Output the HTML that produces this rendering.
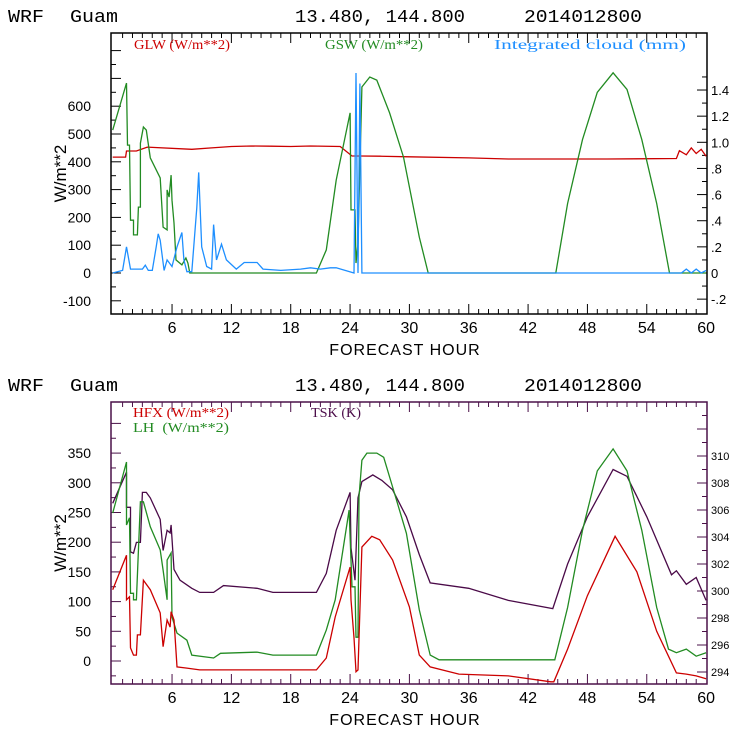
<!DOCTYPE html>
<html><head><meta charset="utf-8"><style>
body{margin:0;background:#fff;}
svg{display:block;font-family:"Liberation Mono",monospace;}
</style></head><body>
<svg id="c" width="740" height="740" xmlns="http://www.w3.org/2000/svg"></svg>
<script>
// ---- data ----
const glwHours=[0,1.3,1.4,2.4,3.5,8,10,12,14,16,18,20,23,24.2,25,27,30,36,40,44,50,57,57.3,58,58.5,59,59.5,60];
const glwVals=[417,417,439,439,453,445,450,455,457,456,455,457,455,421,421,420,418,414,410,410,410,412,440,425,450,430,445,420];
const gswHours=[0,1.4,1.5,1.7,1.8,2.1,2.1,2.5,2.6,2.8,2.8,3.1,3.4,3.8,4.8,5.1,5.5,5.5,5.7,5.9,6.0,6.2,6.4,7.0,7.4,7.6,7.8,20.6,21.6,22.6,24.0,24.1,24.5,24.6,24.8,25.2,26.0,26.7,28.0,29.4,31.0,31.9,44.8,46,47.5,49,50.6,52,53.5,55,56.3,60];
const gswVals=[514,683,460,460,190,190,137,137,237,237,467,525,514,414,342,165,155,299,273,352,262,180,47,29,54,36,0,0,83,334,576,227,227,36,108,669,705,694,576,417,129,0,0,250,480,650,720,660,480,250,0,0];
const cldHours=[0,1.0,1.4,1.8,2.5,3.0,3.3,3.6,4.0,4.4,4.6,4.8,5.2,5.5,6.0,6.5,7.0,7.2,7.5,8.0,8.5,8.7,9.0,9.5,10.0,10.2,10.5,11.0,11.5,12.5,13.3,14.6,15.2,17,19,20,21,22,22.6,24.4,24.6,24.8,25.0,25.2,25.4,57.5,58,58.5,59,59.5,60];
const cldVals=[0,0.02,0.2,0.03,0.03,0.03,0.06,0.02,0.02,0.2,0.3,0.25,0.02,0.1,0.05,0.2,0.31,0.1,0.01,0.01,0.5,0.77,0.2,0.05,0.03,0.37,0.1,0.22,0.1,0.03,0.08,0.08,0.03,0.02,0.03,0.04,0.03,0.04,0.04,0,1.53,0,1.45,0,0,0,0.03,0,0.03,0,0.02];
const lhHours=[0,1.4,1.4,1.7,1.8,2.1,2.1,2.4,2.8,3.1,3.8,4.8,5.1,5.5,5.5,5.9,6.0,6.5,7.5,8.0,10.2,10.9,14.6,16.2,20.6,21.6,22.5,23.9,24.2,24.5,24.6,24.8,24.9,25.2,25.7,26.7,27.4,28.3,29.7,31.0,32.1,33,44.7,46,47.5,49,50.6,52,53.5,55,56.2,57,58,59,60];
const lhVals=[249,335,229,241,114,114,103,103,268,268,226,187,153,103,170,182,74,47,35,10,5,13,15,10,10,52,103,254,125,125,40,40,276,338,350,350,343,293,215,86,10,2,2,90,220,320,357,320,220,90,20,14,20,8,14];
const hfxHours=[0,1.4,1.4,1.7,1.8,2.1,2.4,2.5,2.8,3.1,3.8,4.8,5.1,5.5,5.8,5.9,6.2,6.5,7.5,8.8,20.6,21.6,22.5,24.0,24.1,24.4,24.6,24.8,25.2,26.2,27.0,28.3,30.0,31.0,32.1,35,40,44.3,44.6,46,48,50.8,53,55,57,58,59,60];
const hfxVals=[120,178,103,108,22,10,10,44,44,136,120,81,24,69,57,83,69,-10,-12,-15,-15,5,74,158,103,39,-18,-15,192,210,204,170,91,10,-10,-22,-25,-35,-35,20,110,210,150,50,-20,-22,-25,-30];
const tskHours=[0,1.4,1.4,1.8,1.8,2.1,2.4,2.8,3.0,3.4,3.8,4.8,5.1,5.5,5.8,5.9,6.2,6.8,8.0,8.8,10.2,11.2,14.6,16.2,20.6,21.6,22.6,24.0,24.1,24.5,24.8,25.2,26.3,27.2,28.3,29.7,31.0,32.1,36,40,44.5,46,48,50.6,52,54,56.5,57,58,59,60];
const tskVals=[306.5,308.8,306.2,306.2,302.9,302.8,303.6,303.6,307.3,307.3,306.9,305.3,303.0,304.5,304.3,304.9,301.6,300.8,300.2,299.9,299.9,300.4,300.2,299.9,299.9,301.3,304.5,307.3,303.2,300.8,306.9,308.1,308.6,308.2,307.5,305.5,302.7,300.6,300.2,299.3,298.7,302,305.5,309,308.5,305.5,301.2,301.5,300.5,301,299.3];
const xTicks=[6,12,18,24,30,36,42,48,54,60];
const topLeftTicks=[-100,0,100,200,300,400,500,600];
const topRightTicks=[-0.2,0,0.2,0.4,0.6,0.8,1.0,1.2,1.4];
const topRightLabels=["-.2","0",".2",".4",".6",".8","1.0","1.2","1.4"];
const botLeftTicks=[0,50,100,150,200,250,300,350];
const botRightTicks=[294,296,298,300,302,304,306,308,310];

const NS="http://www.w3.org/2000/svg";
const svg=document.getElementById('c');
function mk(tag,attrs,parent,text){const e=document.createElementNS(NS,tag);for(const k in attrs)e.setAttribute(k,attrs[k]);if(text!==undefined)e.textContent=text;(parent||svg).appendChild(e);return e;}
const X0=112.7,PX=9.89;
const xs=h=>X0+h*PX;
const P=[
 {top:33,bot:314,box:'#000',ly:v=>273-v*0.278,ry:v=>273-v*130.7},
 {top:402,bot:684,box:'#4a1048',ly:v=>661-v*0.594,ry:v=>672-(v-294)*13.5}
];
function line(hours,vals,yf,color,name){
  const pts=hours.map((h,i)=>xs(h).toFixed(1)+','+yf(vals[i]).toFixed(1)).join(' ');
  const p=mk('polyline',{points:pts,fill:'none',stroke:color,'stroke-width':1.3});
  
  
}
P.forEach((p,pi)=>{
  const ty=pi?391:22;
  [[8,'WRF',36],[70,'Guam',48],[295,'13.480, 144.800',170],[524,'2014012800',118]].forEach(s=>{
    const t=mk('text',{x:s[0],y:ty,'font-size':18,fill:'#000',textLength:s[2],lengthAdjust:'spacingAndGlyphs'},svg,s[1]);
    
  });
  const r=mk('rect',{x:111,y:p.top,width:596,height:p.bot-p.top,fill:'none',stroke:p.box,'stroke-width':1.5});
  
  for(let h=1;h<60;h++){const big=h%6===0;
    mk('line',{x1:xs(h),x2:xs(h),y1:p.bot,y2:p.bot-(big?10:5),stroke:p.box});
    mk('line',{x1:xs(h),x2:xs(h),y1:p.top,y2:p.top+(big?10:5),stroke:p.box});}
  xTicks.forEach(h=>{const t=mk('text',{x:xs(h),y:p.bot+19,'font-size':16,'text-anchor':'middle',fill:'#000','font-family':'Liberation Sans'},svg,h);
    });
  const xl=mk('text',{x:405,y:p.bot+41,'font-size':16,'text-anchor':'middle',fill:'#000','font-family':'Liberation Sans','letter-spacing':'1'},svg,'FORECAST HOUR');
  
  const yl=mk('text',{x:0,y:0,'font-size':17,'text-anchor':'middle',fill:'#000','font-family':'Liberation Sans',transform:`translate(66,${(p.top+p.bot)/2}) rotate(-90)`},svg,'W/m**2');
  
});
const T=P[0],B=P[1];
for(let v=-100;v<=800;v+=50){const y=T.ly(v);if(y<T.top||y>T.bot)continue;mk('line',{x1:111,x2:v%100===0?121:116,y1:y,y2:y,stroke:'#000'});}
topLeftTicks.forEach(v=>{const t=mk('text',{x:91,y:T.ly(v)+5,'font-size':14,'text-anchor':'end','font-family':'Liberation Sans'},svg,v);});
for(let v=-0.2;v<=1.6;v+=0.1){const y=T.ry(v);if(y<T.top||y>T.bot)continue;const big=Math.round(v*10)%2===0;mk('line',{x1:707,x2:big?697:702,y1:y,y2:y,stroke:'#000'});}
topRightTicks.forEach((v,i)=>{const t=mk('text',{x:711,y:T.ry(v)+5,'font-size':13,'font-family':'Liberation Sans'},svg,topRightLabels[i]);});
for(let v=-50;v<=400;v+=25){const y=B.ly(v);if(y<B.top||y>B.bot)continue;mk('line',{x1:111,x2:v%50===0?121:116,y1:y,y2:y,stroke:B.box});}
botLeftTicks.forEach(v=>{const t=mk('text',{x:91,y:B.ly(v)+5,'font-size':14,'text-anchor':'end','font-family':'Liberation Sans'},svg,v);});
for(let v=292;v<=314;v+=1){const y=B.ry(v);if(y<B.top||y>B.bot)continue;mk('line',{x1:707,x2:v%2===0?697:702,y1:y,y2:y,stroke:B.box});}
botRightTicks.forEach(v=>{const t=mk('text',{x:711,y:B.ry(v)+4,'font-size':11,'font-family':'Liberation Sans'},svg,v);});
line(glwHours,glwVals,T.ly,'#cc0000','glw-line');
line(gswHours,gswVals,T.ly,'#228b22','gsw-line');
line(cldHours,cldVals,T.ry,'#1e8fff','cloud-line');
line(tskHours,tskVals,B.ry,'#4a0a48','tsk-line');
line(lhHours,lhVals,B.ly,'#228b22','lh-line');
line(hfxHours,hfxVals,B.ly,'#cc0000','hfx-line');
[[134,49,'#cc0000','GLW (W/m**2)',96],[325,49,'#228b22','GSW (W/m**2)',98],[494,49,'#1e8fff','Integrated cloud (mm)',192],
 [133,417,'#cc0000','HFX (W/m**2)',96],[133,432,'#228b22','LH  (W/m**2)',96],[311,417,'#4a0a48','TSK (K)',50]].forEach(l=>{
  const t=mk('text',{x:l[0],y:l[1],'font-size':14,fill:l[2],'font-family':'Liberation Serif',style:'white-space:pre',textLength:l[4],lengthAdjust:'spacingAndGlyphs'},svg,l[3]);
  });
</script>
</body></html>
